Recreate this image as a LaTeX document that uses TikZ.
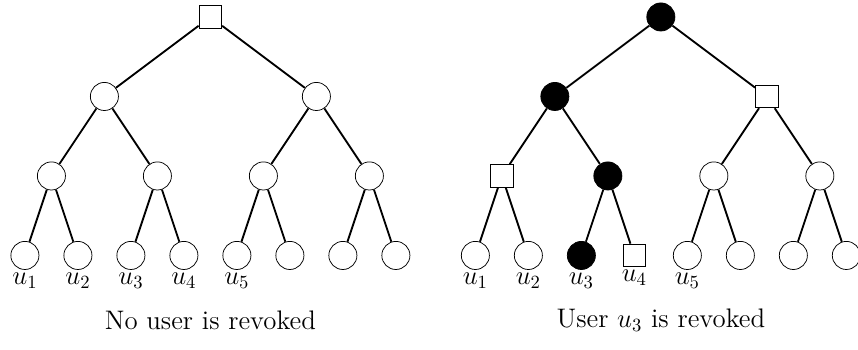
\documentclass[tikz,border=0pt]{standalone}
\usepackage{amsmath}
\usepackage{tikz}
\usetikzlibrary{positioning}

\begin{document}
\begin{tikzpicture}[font=\Large,
        vtx/.style={draw, circle, thin, minimum size=0.53cm, inner sep=0pt},
        rev/.style={vtx, fill=black},
        cov/.style={draw, rectangle, thin, minimum size=0.43cm, inner sep=0pt},
        edge/.style={line width=1pt},
        usr/.style={label={[inner sep=1.5pt]below:#1}}]
        \useasboundingbox (-0.47,-6.28) rectangle (15.72,0.32);
        % no user is revoked
        \node[cov] (a) at (3.5,0) {};
        \node[vtx] (a1) at (1.5,-1.5) {};
        \node[vtx] (a2) at (5.5,-1.5) {};
        \node[vtx] (a11) at (0.5,-3) {};
        \node[vtx] (a12) at (2.5,-3) {};
        \node[vtx] (a21) at (4.5,-3) {};
        \node[vtx] (a22) at (6.5,-3) {};
        \node[vtx, usr=$u_1$] (a111) at (0,-4.5) {};
        \node[vtx, usr=$u_2$] (a112) at (1,-4.5) {};
        \node[vtx, usr=$u_3$] (a121) at (2,-4.5) {};
        \node[vtx, usr=$u_4$] (a122) at (3,-4.5) {};
        \node[vtx, usr=$u_5$] (a211) at (4,-4.5) {};
        \node[vtx] (a212) at (5,-4.5) {};
        \node[vtx] (a221) at (6,-4.5) {};
        \node[vtx] (a222) at (7,-4.5) {};
        \foreach \p in {a,a1,a2,a11,a12,a21,a22}
            \draw[edge] (\p) -- (\p1) (\p) -- (\p2);
        \node (capa) at (3.5,-5.72) {No user is revoked};
        % user u3 is revoked
        \node[rev] (b) at (12,0) {};
        \node[rev] (b1) at (10,-1.5) {};
        \node[cov] (b2) at (14,-1.5) {};
        \node[cov] (b11) at (9,-3) {};
        \node[rev] (b12) at (11,-3) {};
        \node[vtx] (b21) at (13,-3) {};
        \node[vtx] (b22) at (15,-3) {};
        \node[vtx, usr=$u_1$] (b111) at (8.5,-4.5) {};
        \node[vtx, usr=$u_2$] (b112) at (9.5,-4.5) {};
        \node[rev, usr=$u_3$] (b121) at (10.5,-4.5) {};
        \node[cov, usr=$u_4$] (b122) at (11.5,-4.5) {};
        \node[vtx, usr=$u_5$] (b211) at (12.5,-4.5) {};
        \node[vtx] (b212) at (13.5,-4.5) {};
        \node[vtx] (b221) at (14.5,-4.5) {};
        \node[vtx] (b222) at (15.5,-4.5) {};
        \foreach \p in {b,b1,b2,b11,b12,b21,b22}
            \draw[edge] (\p) -- (\p1) (\p) -- (\p2);
        \node (capb) at (12,-5.72) {User $u_3$ is revoked};
    \end{tikzpicture}
\end{document}
